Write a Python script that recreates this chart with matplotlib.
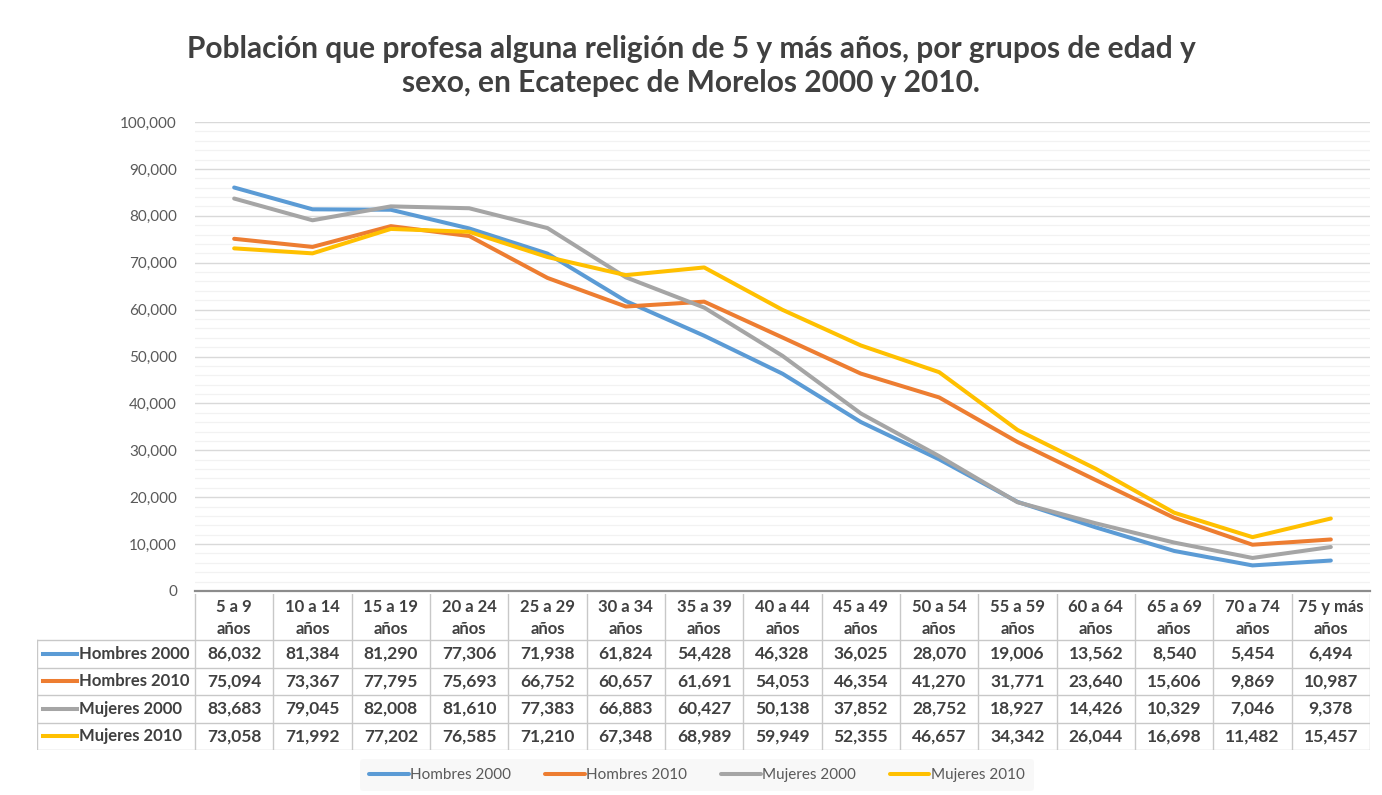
import matplotlib.pyplot as plt
from matplotlib.ticker import MultipleLocator, FuncFormatter

plt.rcParams['font.family'] = ['Lato', 'DejaVu Sans']

# datos
grupos = ["5 a 9\naños", "10 a 14\naños", "15 a 19\naños", "20 a 24\naños", "25 a 29\naños",
          "30 a 34\naños", "35 a 39\naños", "40 a 44\naños", "45 a 49\naños", "50 a 54\naños",
          "55 a 59\naños", "60 a 64\naños", "65 a 69\naños", "70 a 74\naños", "75 y más\naños"]
hombres_2000 = [86032, 81384, 81290, 77306, 71938, 61824, 54428, 46328, 36025, 28070, 19006, 13562, 8540, 5454, 6494]
hombres_2010 = [75094, 73367, 77795, 75693, 66752, 60657, 61691, 54053, 46354, 41270, 31771, 23640, 15606, 9869, 10987]
mujeres_2000 = [83683, 79045, 82008, 81610, 77383, 66883, 60427, 50138, 37852, 28752, 18927, 14426, 10329, 7046, 9378]
mujeres_2010 = [73058, 71992, 77202, 76585, 71210, 67348, 68989, 59949, 52355, 46657, 34342, 26044, 16698, 11482, 15457]
series = ["Hombres 2000", "Hombres 2010", "Mujeres 2000", "Mujeres 2010"]
colores = ["#5B9BD5", "#ED7D31", "#A5A5A5", "#FFC000"]

W, H = 1382, 795
fig = plt.figure(figsize=(W / 100, H / 100), dpi=100)

fig.text(0.5, 1 - 66 / H,
         "Población que profesa alguna religión de 5 y más años, por grupos de edad y\n"
         "sexo, en Ecatepec de Morelos 2000 y 2010.",
         ha='center', va='center', fontsize=21.5, fontweight='bold', color='#404040',
         linespacing=1.27)

# grafico principal
ax = fig.add_axes([195 / W, 1 - 591 / H, (1370 - 195) / W, (591 - 122) / H])
x = list(range(len(grupos)))
valores = [hombres_2000, hombres_2010, mujeres_2000, mujeres_2010]
lineas = []
for nombre, vals, c in zip(series, valores, colores):
    ln, = ax.plot(x, vals, color=c, lw=2.9, label=nombre, solid_capstyle='round', zorder=3)
    lineas.append(ln)

ax.set_xlim(-0.5, len(grupos) - 0.5)
ax.set_ylim(0, 100000)
ax.yaxis.set_major_locator(MultipleLocator(10000))
ax.yaxis.set_minor_locator(MultipleLocator(2000))
ax.yaxis.set_major_formatter(FuncFormatter(lambda v, p: f"{int(v):,}"))
ax.grid(which='major', axis='y', color='#d9d9d9', lw=1.0)
ax.grid(which='minor', axis='y', color='#f2f2f2', lw=0.9)
ax.set_axisbelow(True)
ax.set_xticks([])
ax.tick_params(axis='y', which='both', length=0, labelsize=11, labelcolor='#595959', pad=13)
for s in ['top', 'right', 'left']:
    ax.spines[s].set_visible(False)
ax.spines['bottom'].set_color('#8c8c8c')
ax.spines['bottom'].set_linewidth(1.6)

# tabla de datos
colw = (1370 - 195) / 15
lab = 158 / colw
tax = fig.add_axes([37 / W, 1 - 750 / H, (1370 - 37) / W, (750 - 594) / H])
x0 = -0.5 - lab
tax.set_xlim(x0, 14.5)
tax.set_ylim(156, 0)
tax.axis('off')
gc = '#c8c8c8'
for i in range(len(grupos) + 1):
    tax.plot([i - 0.5, i - 0.5], [0, 156], color=gc, lw=1.0)
tax.plot([x0, x0], [46, 156], color=gc, lw=1.0)
filas = [46, 73.5, 101, 128.5, 156]
for yy in filas:
    tax.plot([x0, 14.5], [yy, yy], color=gc, lw=1.0)
for i, g in enumerate(grupos):
    tax.text(i, 24, g, ha='center', va='center', fontsize=12, fontweight='bold',
             color='#404040', linespacing=1.5)
for r, (nombre, vals, c) in enumerate(zip(series, valores, colores)):
    yc = (filas[r] + filas[r + 1]) / 2
    tax.plot([x0 + 6 / colw, x0 + 40 / colw], [yc, yc], color=c, lw=2.9)
    tax.text(x0 + 42 / colw, yc, nombre, ha='left', va='center', fontsize=12,
             fontweight='bold', color='#404040')
    for i, v in enumerate(vals):
        tax.text(i, yc, f"{v:,}", ha='center', va='center', fontsize=12.5,
                 fontweight='bold', color='#404040')

leg = fig.legend(handles=lineas, loc='center', bbox_to_anchor=(697 / W, 1 - 775 / H),
                 ncol=4, frameon=True, fontsize=11, handlelength=2.6, handletextpad=0.1,
                 columnspacing=2.2, borderpad=0.6)
leg.get_frame().set_facecolor('#f7f7f7')
leg.get_frame().set_edgecolor('none')
for t in leg.get_texts():
    t.set_color('#595959')

fig.savefig("out.png", dpi=100)
